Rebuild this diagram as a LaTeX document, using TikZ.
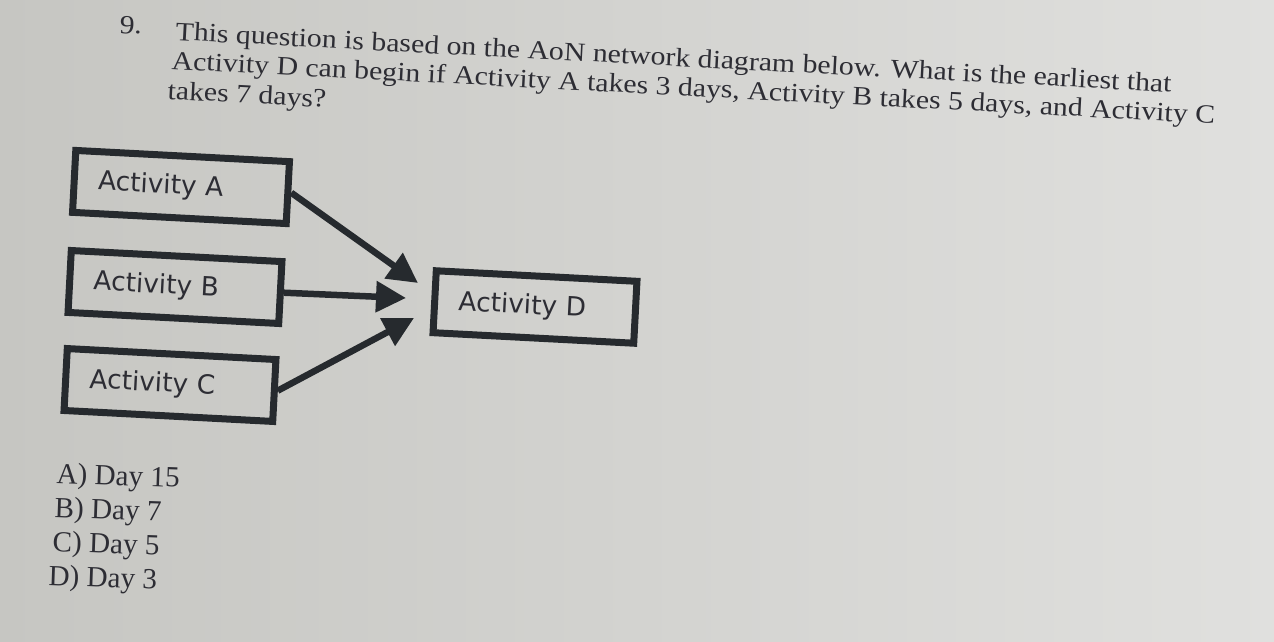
\documentclass[tikz,border=0pt]{standalone}
\usepackage{graphicx}
\usepackage{fontspec}
\setmainfont{Liberation Serif}
\newfontfamily\diagfont{DejaVu Sans}
\usetikzlibrary{arrows.meta}

\definecolor{pageleft}{RGB}{198,198,194}
\definecolor{pageright}{RGB}{224,224,222}
\definecolor{ink}{RGB}{38,42,46}
\definecolor{print}{RGB}{45,45,52}

\newcommand{\qwide}[1]{\scalebox{1.13}[1]{#1}}

\tikzset{
  actbox/.style={draw=ink, line width=0.14cm, rectangle, minimum height=1.24cm,
    inner xsep=0.48cm, align=left, rotate=-3, text=print,
    font=\diagfont\fontsize{15}{18}\selectfont},
  link/.style={draw=ink, line width=0.13cm, -{Triangle[length=0.6cm,width=0.6cm]}},
  qtext/.style={anchor=base west, inner sep=0pt, rotate=-3, text=print,
    font=\fontsize{15}{18}\selectfont},
  choice/.style={anchor=base west, inner sep=0pt, rotate=-2, text=print,
    font=\fontsize{16.6}{19}\selectfont}
}

\begin{document}
\begin{tikzpicture}[x=0.02cm, y=-0.02cm]
    % Page
    \useasboundingbox (0,0) rectangle (1274,642);
    \shade[left color=pageleft, right color=pageright] (0,0) rectangle (1274,642);
    % Question
    \node[qtext] (num) at (119,33) {\qwide{9.}};
    \node[qtext] (q1) at (175,40) {\qwide{This question is based on the AoN network diagram below. What is the earliest that}};
    \node[qtext] (q2) at (171,69) {\qwide{Activity D can begin if Activity A takes 3 days, Activity B takes 5 days, and Activity C}};
    \node[qtext] (q3) at (167,99) {\qwide{takes 7 days?}};
    % Activities
    \node[actbox, text width=3.32cm] (actA) at (181,187) {Activity A};
    \node[actbox, text width=3.26cm] (actB) at (175,287) {Activity B};
    \node[actbox, text width=3.22cm] (actC) at (170,385) {Activity C};
    \node[actbox, text width=3.06cm] (actD) at (535,307) {Activity D};
    % Links into D
    \coordinate (tipA) at (418,283);
    \coordinate (tipB) at (406,298);
    \coordinate (tipC) at (414,318);
    \draw[link] (actA.east) -- (tipA);
    \draw[link] (actB.east) -- (tipB);
    \draw[link] (actC.east) -- (tipC);
    % Answers
    \node[choice] (ansA) at (56,483) {A) Day 15};
    \node[choice] (ansB) at (54,517) {B) Day 7};
    \node[choice] (ansC) at (52,551) {C) Day 5};
    \node[choice] (ansD) at (48,585) {D) Day 3};
\end{tikzpicture}
\end{document}
